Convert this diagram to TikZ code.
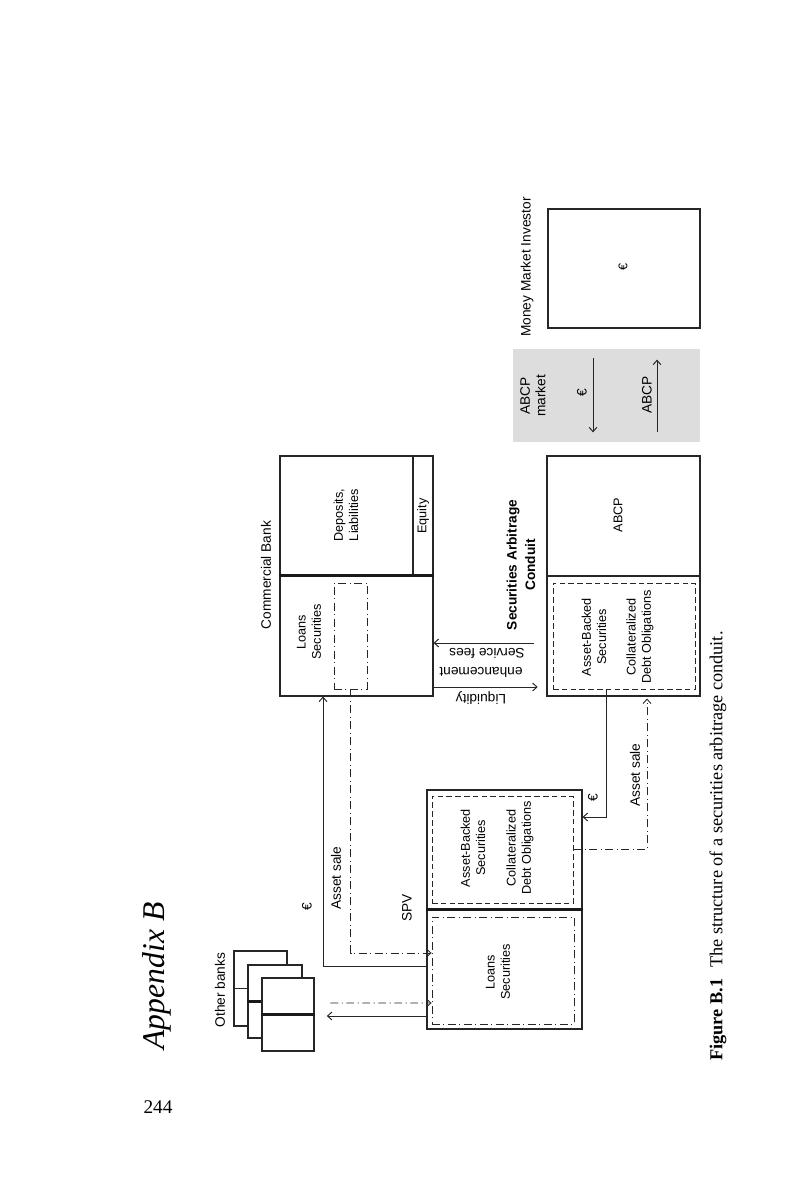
\documentclass[tikz,border=0pt]{standalone}
\usepackage{fontspec}
\setmainfont{Liberation Serif}
\setsansfont{Liberation Sans}
\usetikzlibrary{arrows.meta, calc, fit}

\begin{document}
\begin{tikzpicture}[
    x=0.02cm, y=-0.02cm,
    txt/.style = {font=\sffamily\fontsize{7.8}{8.8}\selectfont, align=center, rotate=90, inner sep=0pt},
    inner/.style = {txt, font=\sffamily\fontsize{7.2}{8.6}\selectfont},
    box/.style = {draw=black!85, line width=0.6pt, inner sep=0pt},
    pool/.style = {draw=black!85, line width=0.5pt, dash pattern=on 3.2pt off 1.8pt, inner sep=0pt},
    dashdotline/.style = {draw=black!85, line width=0.5pt, dash pattern=on 4.5pt off 2pt on 0.6pt off 2pt},
    divider/.style = {draw=black!90, line width=1.3pt},
    flow/.style = {draw=black!85, line width=0.55pt, -{Straight Barb[length=2.5pt,width=4.5pt]}}
]
\useasboundingbox (0,0) rectangle (802,1202);

% Page
\node (page) [font=\fontsize{11}{13}\selectfont] at (158,1107) {244};
\node (appx) [font=\itshape\fontsize{18}{20}\selectfont, rotate=90] at (157,976) {Appendix B};
\node (caption) [font=\fontsize{10.4}{12}\selectfont, rotate=90] at (718,846)
    {\textbf{Figure B.1}\hspace{0.6em}The structure of a securities arbitrage conduit.};

% Commercial Bank
\node (cbLiab) [box, fit={(280,456) (413,576)}] {};
\node (cbEquity) [box, fit={(413,456) (433,576)}] {};
\node (cbAssets) [box, fit={(280,576) (433,696)}] {};
\node (cbPool) [dashdotline, inner sep=0pt, fit={(334,583) (367,689)}] {};
\draw [divider] (cbAssets.north west) -- (cbAssets.north east);
\node (cbName) [txt] at (266,575) {Commercial Bank};
\node (cbLiabTxt) [inner] at (346,515) {Deposits,\\Liabilities};
\node (cbEquityTxt) [inner] at (423,516) {Equity};
\node (cbAssetsTxt) [inner] at (309,632) {Loans\\Securities};

% Securities Arbitrage Conduit
\node (scABCP) [box, fit={(547,456) (700,576)}] {};
\node (scAssets) [box, fit={(547,576) (700,696)}] {};
\node (scPool) [pool, fit={(553,583) (695,689)}] {};
\node (scName) [txt, font=\sffamily\bfseries\fontsize{7.8}{10.5}\selectfont] at (521,565) {Securities Arbitrage\\Conduit};
\node (scABCPTxt) [inner] at (618,515) {ABCP};
\node (scABSTxt) [inner] at (594,637) {Asset-Backed\\Securities};
\node (scCDOTxt) [inner] at (640,637) {Collateralized\\Debt Obligations};

% ABCP market
\node (mkt) [fill=gray!27, inner sep=0pt, fit={(513,349) (700,442)}] {};
\node (mktTxt) [txt] at (533,396) {ABCP\\market};
\node (mktEuro) [txt] at (582,393) {€};
\node (mktABCP) [txt] at (647,395) {ABCP};
\draw [flow] ($(mkt.north)+(-13.5,9)$) -- ($(mkt.south)+(-13.5,-10)$);
\draw [flow] ($(mkt.south)+(50.5,-10)$) -- ($(mkt.north)+(50.5,11)$);

% Money Market Investor
\node (mmi) [box, fit={(548,209) (700,328)}] {};
\node (mmiEuro) [inner] at (623,267) {€};
\node (mmiName) [txt] at (527,267) {Money Market Investor};

% SPV
\node (spvTop) [box, fit={(427,790) (582,910)}] {};
\node (spvBottom) [box, fit={(427,910) (582,1029)}] {};
\node (spvABS) [pool, fit={(432,796) (573,903)}] {};
\node (spvLoans) [dashdotline, inner sep=0pt, fit={(432,917) (574,1024)}] {};
\draw [divider] (spvBottom.north west) -- (spvBottom.north east);
\node (spvName) [txt] at (407,908) {SPV};
\node (spvABSTxt) [inner] at (473,848) {Asset-Backed\\Securities};
\node (spvCDOTxt) [inner] at (520,848) {Collateralized\\Debt Obligations};
\node (spvLoansTxt) [inner] at (498,972) {Loans\\Securities};

% Other banks
\node (ob1) [box, fill=white, fit={(234,951) (287,1026)}] {};
\draw [box] (ob1.west) -- (ob1.east);
\node (ob2) [box, fill=white, fit={(248,965) (302,1038)}] {};
\draw [divider] (ob2.west) -- (ob2.east);
\node (ob3) [box, fill=white, fit={(262,978) (314,1051)}] {};
\draw [divider] (ob3.west) -- (ob3.east);
\node (obName) [txt] at (220,990) {Other banks};

% Flows between bank and conduit
\draw [flow, shorten <=7pt] ($(scAssets.west)+(0,7)$) -- ($(cbAssets.east)+(0,7)$);
\draw [flow, shorten >=5pt] ($(cbAssets.east)+(0,51)$) -- ($(scAssets.west)+(0,51)$);
\node (feesTxt) [txt, rotate=90] at (487,653) {Service fees};
\node (enhTxt) [txt, rotate=90] at (481,672) {enhancement};
\node (liqTxt) [txt, rotate=90] at (481,698) {Liquidity};

% Flows between bank and SPV
\draw [flow] ($(spvBottom.west)+(0,-3)$) -| ($(cbAssets.south)+(-33.5,0)$);
\draw [flow, dashdotline] (cbPool.south) |- ($(spvLoans.west)+(0,-17.5)$);
\node (bankEuro) [txt] at (307,907) {€};
\node (bankSale) [txt] at (336,878) {Asset sale};

% Flows between conduit and SPV
\draw [flow] ($(scPool.south)+(-18,0)$) |- ($(spvTop.east)+(0,-33)$);
\draw [flow, dashdotline] (spvABS.east) -| ($(scAssets.south)+(23.5,2)$);
\node (scEuro) [txt] at (593,798) {€};
\node (scSale) [txt] at (635,775) {Asset sale};

% Flows between other banks and SPV
\draw [flow, dashdotline, shorten <=9pt] ($(ob3.east)+(0,-11.5)$) -- ($(spvLoans.west)+(0,32.5)$);
\draw [flow, shorten >=7pt] ($(spvBottom.west)+(0,46.5)$) -- ($(ob3.east)+(0,1.5)$);

\end{tikzpicture}
\end{document}
